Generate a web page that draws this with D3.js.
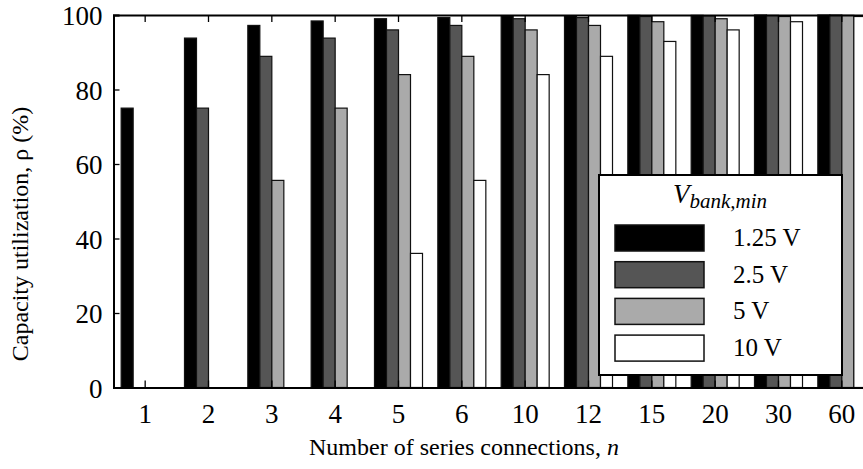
<!DOCTYPE html>
<html>
<head>
<meta charset='utf-8'>
<style>
body { margin: 0; background: #fff; }
svg { display: block; font-family: 'Times New Roman', 'Liberation Serif', Times, serif; }
.bar { stroke: #111; stroke-width: 1.2px; }
</style>
</head>
<body>
<svg width="863" height="469"></svg>
<script src="https://d3js.org/d3.v7.min.js"></script>
<script>

// categories: number of series connections
var connections = ["1", "2", "3", "4", "5", "6", "10", "12", "15", "20", "30", "60"];
var seriesNames = ["1.25 V", "2.5 V", "5 V", "10 V"];
var seriesFill = ["#000000", "#555555", "#aaaaaa", "#ffffff"];

// capacity utilization (%) per Vbank,min
var v125 = [75, 93.8, 97.2, 98.4, 99, 99.3, 99.8, 99.8, 99.9, 99.9, 100, 100];
var v25  = [0, 75, 88.9, 93.8, 96, 97.2, 99, 99.3, 99.6, 99.8, 99.9, 100];
var v5   = [0, 0, 55.6, 75, 84, 88.9, 96, 97.2, 98.2, 99, 99.6, 99.9];
var v10  = [0, 0, 0, 0, 36, 55.6, 84, 88.9, 92.9, 96, 98.2, 99.6];
var yTicks = [0, 20, 40, 60, 80, 100];

var allSeries = [v125, v25, v5, v10];
var FONT = "'Times New Roman', 'Liberation Serif', serif";

var svg = d3.select('svg'),
    plotL = 113.5, plotT = 15, plotB = 387.5, plotR = 873.5;

var x0 = d3.scaleBand().domain(connections).range([plotL, plotR])
    .paddingInner(0.242).paddingOuter(0.121);
var x1 = d3.scaleBand().domain(d3.range(seriesNames.length)).range([0, x0.bandwidth()]);
var y = d3.scaleLinear().domain([0, 100]).range([plotB, plotT]);

// bars
var groups = svg.append('g').selectAll('g')
  .data(connections)
  .enter().append('g')
    .attr('transform', d => 'translate(' + x0(d) + ',0)');

groups.selectAll('rect')
  .data((d, i) => allSeries.map((s, k) => ({k: k, v: s[i]})).filter(b => b.v > 0))
  .enter().append('rect')
    .attr('class', 'bar')
    .attr('x', d => x1(d.k))
    .attr('width', x1.bandwidth())
    .attr('y', d => y(d.v))
    .attr('height', d => y(0) - y(d.v))
    .attr('fill', d => seriesFill[d.k]);

// axes (ticks point inward)
var axisL = svg.append('g').attr('transform', 'translate(' + plotL + ',0)')
  .call(d3.axisLeft(y).tickValues(yTicks).tickSize(-6).tickPadding(11));
var axisB = svg.append('g').attr('transform', 'translate(0,' + plotB + ')')
  .call(d3.axisBottom(x0).tickSize(-7).tickPadding(16));
var axisT = svg.append('g').attr('transform', 'translate(0,' + plotT + ')')
  .call(d3.axisTop(x0).tickSize(-7).tickFormat(''));

[axisL, axisB, axisT].forEach(function(a) {
  a.attr('font-family', FONT).attr('font-size', 27);
  a.select('.domain').attr('stroke', '#000').attr('stroke-width', 2);
  a.selectAll('.tick line').attr('stroke', '#000').attr('stroke-width', 1.3);
  a.selectAll('text').attr('fill', '#000');
});
axisL.selectAll('text').attr('dy', '0.36em');
axisB.selectAll('text').attr('dy', '0.71em');

// legend
var lg = svg.append('g').attr('transform', 'translate(599,175)')
  .attr('font-family', FONT);
lg.append('rect').attr('width', 243).attr('height', 200)
  .attr('fill', '#fff').attr('stroke', '#000').attr('stroke-width', 2);
var title = lg.append('text').attr('x', 121).attr('y', 28)
  .attr('text-anchor', 'middle').attr('font-style', 'italic').attr('font-size', 27);
title.append('tspan').text('V');
title.append('tspan').attr('font-size', 21).attr('dy', 5).text('bank,min');

var items = lg.selectAll('.item').data(seriesNames).enter().append('g')
  .attr('transform', (d, i) => 'translate(16,' + (50 + i * 36.7) + ')');
items.append('rect').attr('width', 89).attr('height', 26)
  .attr('fill', (d, i) => seriesFill[i]).attr('stroke', '#111').attr('stroke-width', 1.5);
items.append('text').attr('x', 118).attr('y', 21).attr('font-size', 25).text(d => d);

// axis titles
var xt = svg.append('text').attr('x', 464).attr('y', 455)
  .attr('font-family', FONT)
  .attr('text-anchor', 'middle').attr('font-size', 24);
xt.append('tspan').text('Number of series connections, ');
xt.append('tspan').attr('font-style', 'italic').text('n');

svg.append('text')
  .attr('transform', 'translate(28,234) rotate(-90)')
  .attr('font-family', FONT)
  .attr('text-anchor', 'middle').attr('font-size', 24)
  .text('Capacity utilization, ρ (%)');

</script>
</body>
</html>
